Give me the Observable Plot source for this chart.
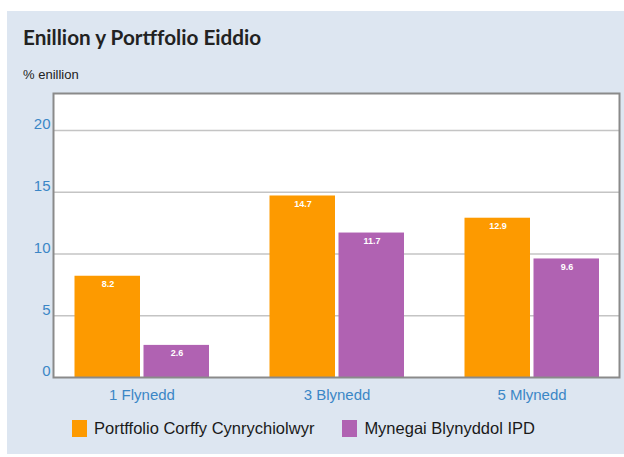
<!DOCTYPE html>
<html>
<head>
<meta charset="utf-8">
<script src="https://cdn.jsdelivr.net/npm/d3@7"></script>
<script src="https://cdn.jsdelivr.net/npm/@observablehq/plot@0.6"></script>
<style>
  html, body { margin: 0; padding: 0; background: #ffffff; }
  #wrap { position: relative; width: 624px; height: 457px; overflow: hidden; font-family: "Liberation Sans", Arial, sans-serif; }
  #panel { position: absolute; left: 7px; top: 11px; width: 617px; height: 443px; background: #dde6f1; }
  #title { position: absolute; left: 23px; top: 25px; font-family: Lato, "Open Sans", sans-serif; font-weight: 700; font-size: 20.7px; color: #222; white-space: nowrap; }
  #sub { position: absolute; left: 23px; top: 67px; font-size: 13px; color: #222; white-space: nowrap; }
  #chart { position: absolute; left: 0; top: 88px; }
  #legend { position: absolute; left: 72px; top: 419px; display: flex; align-items: center; font-size: 16.5px; color: #1a1a1a; white-space: nowrap; }
  .sw { display: inline-block; width: 15px; height: 17px; margin-right: 7px; }
  .item { display: flex; align-items: center; margin-right: 28px; }
</style>
</head>
<body>
<div id="wrap">
  <div id="panel"></div>
  <div id="title">Enillion y Portffolio Eiddio</div>
  <div id="sub">% enillion</div>
  <div id="chart"></div>
  <div id="legend"></div>
</div>
<script>
const groups = ["1 Flynedd", "3 Blynedd", "5 Mlynedd"];
const seriesNames = ["Portffolio Corffy Cynrychiolwyr", "Mynegai Blynyddol IPD"];
const portffolio = [8.2, 14.7, 12.9];
const ipd = [2.6, 11.7, 9.6];
const yTicks = [0, 5, 10, 15, 20];
const colors = ["#fd9a00", "#b062b2"];

const dataA = groups.map((g, i) => ({group: g, value: portffolio[i]}));
const dataB = groups.map((g, i) => ({group: g, value: ipd[i]}));

const blue = "#3b86c6";

const chart = Plot.plot({
  width: 624,
  height: 320,
  marginLeft: 53,
  marginRight: 5,
  marginTop: 5,
  marginBottom: 31,
  style: {background: "transparent", fontFamily: "'Liberation Sans', Arial, sans-serif"},
  x: {domain: groups, paddingInner: 0.3, paddingOuter: 0.1},
  y: {domain: [0, 23]},
  marks: [
    Plot.frame({fill: "white", stroke: "none"}),
    Plot.gridY(yTicks.slice(1), {stroke: "#c4c4c4", strokeOpacity: 1, strokeWidth: 1.5}),
    Plot.barY(dataA, {x: "group", y: "value", fill: colors[0], insetLeft: 1.5, insetRight: 70}),
    Plot.barY(dataB, {x: "group", y: "value", fill: colors[1], insetLeft: 70.5, insetRight: 1}),
    Plot.text(dataA, {x: "group", y: "value", text: d => d.value.toFixed(1), dx: -34, dy: 8, fill: "white", fontWeight: "bold", fontSize: 9}),
    Plot.text(dataB, {x: "group", y: "value", text: d => d.value.toFixed(1), dx: 35, dy: 8, fill: "white", fontWeight: "bold", fontSize: 9}),
    Plot.frame({stroke: "#8a8a8a", strokeWidth: 2}),
    Plot.axisY({ticks: yTicks, tickSize: 0, tickPadding: 3, dy: -6, fontSize: 15, color: blue, label: null}),
    Plot.axisX({tickSize: 0, tickPadding: 12, fontSize: 15, color: blue, label: null})
  ]
});
document.getElementById("chart").appendChild(chart);

const legend = document.getElementById("legend");
seriesNames.forEach((name, i) => {
  const item = document.createElement("div");
  item.className = "item";
  const sw = document.createElement("span");
  sw.className = "sw";
  sw.style.background = colors[i];
  item.appendChild(sw);
  const t = document.createElement("span");
  t.textContent = name;
  item.appendChild(t);
  legend.appendChild(item);
});
</script>
</body>
</html>
